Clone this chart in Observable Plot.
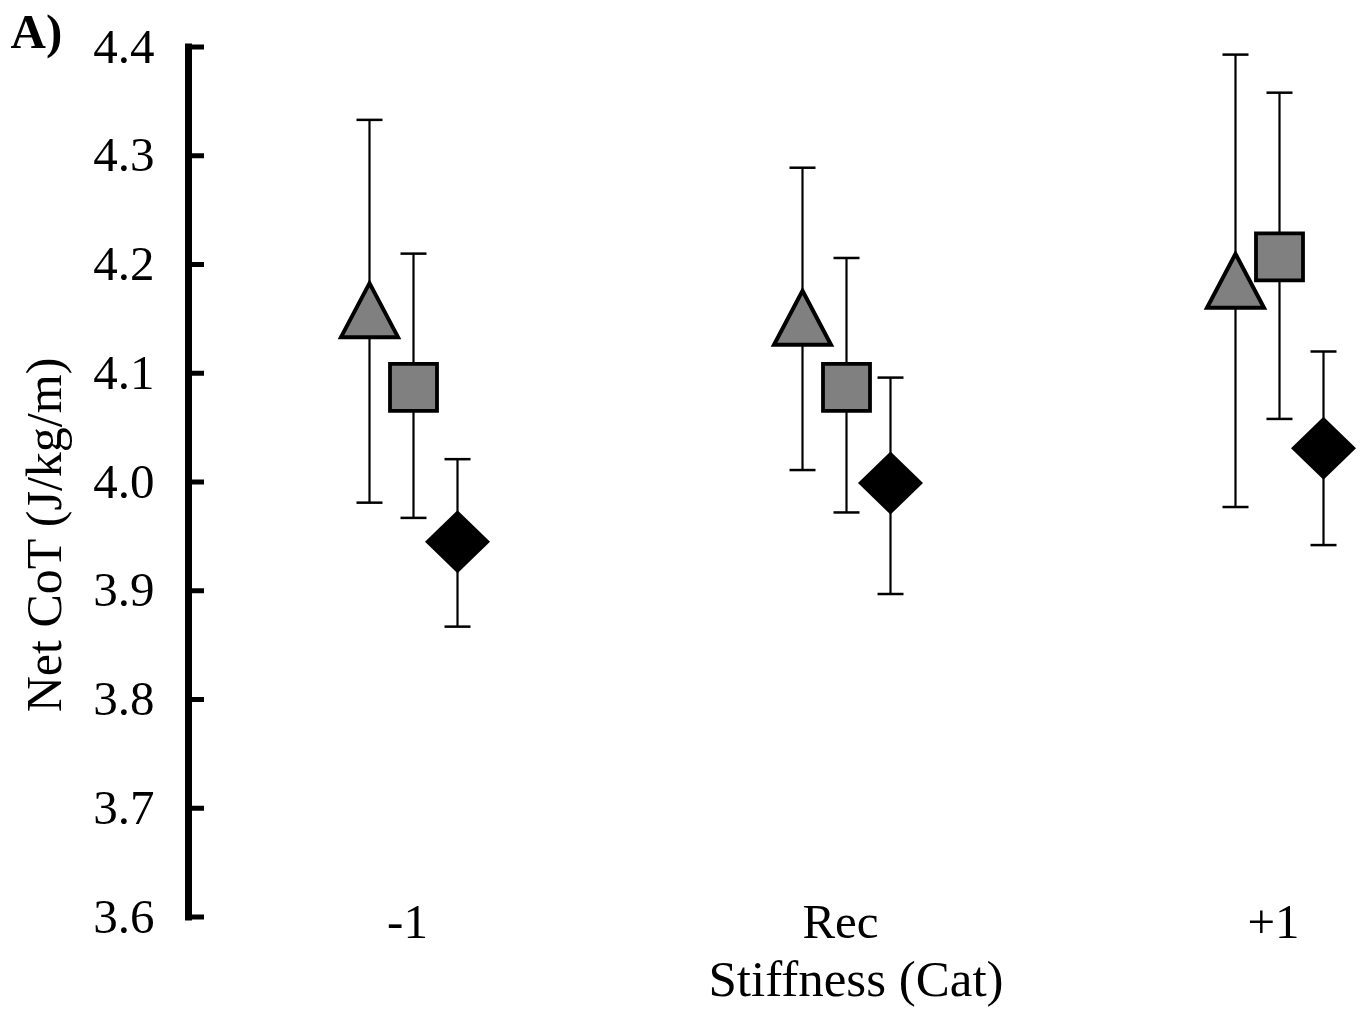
<!DOCTYPE html>
<html>
<head>
<meta charset="utf-8">
<script src="https://cdn.jsdelivr.net/npm/d3@7"></script>
<script src="https://cdn.jsdelivr.net/npm/@observablehq/plot@0.6"></script>
<style>
  html, body { margin: 0; padding: 0; background: #fff; }
</style>
</head>
<body>
<div id="chart"></div>
<script>
// ---- data ----
const categories = ["-1", "Rec", "+1"];
const yTicks = [3.6, 3.7, 3.8, 3.9, 4.0, 4.1, 4.2, 4.3, 4.4];

const triangleMean = [4.158, 4.151, 4.185];
const triangleLow  = [3.981, 4.011, 3.977];
const triangleHigh = [4.333, 4.289, 4.393];

const squareMean = [4.087, 4.087, 4.207];
const squareLow  = [3.967, 3.972, 4.058];
const squareHigh = [4.210, 4.206, 4.358];

const diamondMean = [3.945, 3.999, 4.031];
const diamondLow  = [3.867, 3.897, 3.942];
const diamondHigh = [4.021, 4.096, 4.120];

const panelLabel = "A)";
const xLabel = "Stiffness (Cat)";
const yLabel = "Net CoT (J/kg/m)";

// ---- helpers ----
function rows(mean, lo, hi) {
  return categories.map((c, i) => ({cat: c, mean: mean[i], lo: lo[i], hi: hi[i]}));
}
function sym(fn) {
  return {draw(ctx, size) { const k = Math.sqrt(size / Math.PI) / 30; fn(ctx, k); }};
}
const triangleSym = sym((c, k) => {
  c.moveTo(0, -27 * k); c.lineTo(28.5 * k, 27 * k); c.lineTo(-28.5 * k, 27 * k); c.closePath();
});
const squareSym = sym((c, k) => {
  c.moveTo(-23.5 * k, -23.5 * k); c.lineTo(23.5 * k, -23.5 * k);
  c.lineTo(23.5 * k, 23.5 * k); c.lineTo(-23.5 * k, 23.5 * k); c.closePath();
});
const diamondSym = sym((c, k) => {
  c.moveTo(0, -31.5 * k); c.lineTo(32.5 * k, 0); c.lineTo(0, 31.5 * k); c.lineTo(-32.5 * k, 0); c.closePath();
});
const capSym = sym((c, k) => { c.moveTo(-13 * k, 0); c.lineTo(13 * k, 0); });

const series = [
  {data: rows(triangleMean, triangleLow, triangleHigh), dx: -44, symbol: triangleSym, fill: "#808080", stroke: "#000", sw: 4},
  {data: rows(squareMean, squareLow, squareHigh), dx: 0, symbol: squareSym, fill: "#808080", stroke: "#000", sw: 3.8},
  {data: rows(diamondMean, diamondLow, diamondHigh), dx: 44, symbol: diamondSym, fill: "#000", stroke: "none", sw: 0}
];

const marks = [];
for (const s of series) {
  marks.push(Plot.ruleX(s.data, {x: "cat", y1: "lo", y2: "hi", dx: s.dx, stroke: "#000", strokeWidth: 2.2}));
  marks.push(Plot.dot(s.data, {x: "cat", y: "lo", dx: s.dx, r: 30, symbol: capSym, fill: "none", stroke: "#000", strokeWidth: 2.5}));
  marks.push(Plot.dot(s.data, {x: "cat", y: "hi", dx: s.dx, r: 30, symbol: capSym, fill: "none", stroke: "#000", strokeWidth: 2.5}));
}
for (const s of series) {
  marks.push(Plot.dot(s.data, {x: "cat", y: "mean", dx: s.dx, r: 30, symbol: s.symbol, fill: s.fill, stroke: s.stroke, strokeWidth: s.sw, strokeLinejoin: "miter"}));
}

const chart = Plot.plot({
  width: 1361,
  height: 1010,
  marginLeft: 188,
  marginRight: 0,
  marginTop: 46.5,
  marginBottom: 93.5,
  style: {fontFamily: "'Liberation Serif', 'Times New Roman', serif", fontSize: "49px", background: "#fff", color: "#000"},
  x: {type: "point", domain: categories, range: [412.5, 1280], padding: 0},
  y: {domain: [3.6, 4.4]},
  marks: [
    Plot.frame({anchor: "left", stroke: "#000", strokeWidth: 7}),
    Plot.axisY({ticks: yTicks, tickFormat: d3.format(".1f"), tickSize: 16, dx: 16, tickPadding: 34, strokeWidth: 5, label: null, fontSize: 49}),
    Plot.axisX({tickSize: 0, tickPadding: 0, dy: -14, dx: -6, label: null, fontSize: 49}),
    Plot.text([xLabel], {text: d => d, frameAnchor: "bottom", dx: 81, dy: 62.5, textAnchor: "middle", lineAnchor: "middle", fontSize: 51}),
    Plot.text([yLabel], {text: d => d, frameAnchor: "left", rotate: -90, dx: -144, dy: 53, textAnchor: "middle", lineAnchor: "middle", fontSize: 50}),
    Plot.text([panelLabel], {text: d => d, frameAnchor: "top-left", dx: -178, dy: -15, textAnchor: "start", lineAnchor: "middle", fontSize: 49, fontWeight: "bold"}),
    ...marks
  ]
});
document.getElementById("chart").appendChild(chart);
</script>
</body>
</html>
